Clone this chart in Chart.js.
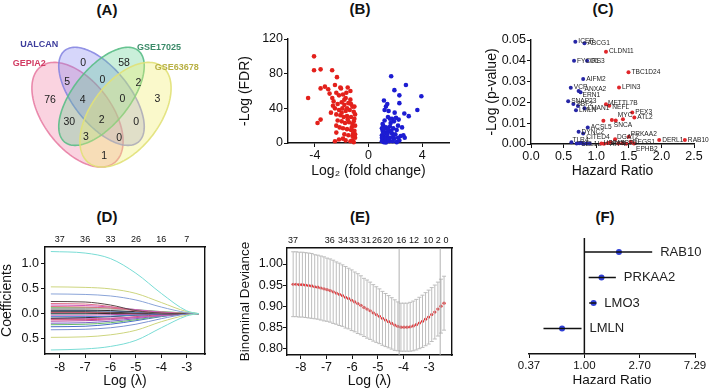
<!DOCTYPE html>
<html><head><meta charset="utf-8">
<script src="https://cdn.jsdelivr.net/npm/chart.js@4.4.1/dist/chart.umd.min.js"></script>
<style>
html,body{margin:0;padding:0;background:#fff}
body{width:709px;height:388px;position:relative;overflow:hidden;font-family:'Liberation Sans',Arial,sans-serif}
canvas{position:absolute;display:block}
.pt{position:absolute;font-weight:bold;font-size:15px;color:#111;transform:translate(-50%,-50%);white-space:nowrap}
</style></head><body>
<div class="pt" style="left:107px;top:9px">(A)</div>
<div class="pt" style="left:360px;top:8px">(B)</div>
<div class="pt" style="left:603px;top:8px">(C)</div>
<div class="pt" style="left:107px;top:216px">(D)</div>
<div class="pt" style="left:360px;top:216px">(E)</div>
<div class="pt" style="left:605px;top:216px">(F)</div>
<canvas id="cA" width="230" height="200" style="left:0;top:0"></canvas>
<canvas id="cB" width="230" height="165" style="left:230px;top:25px"></canvas>
<canvas id="cC" width="249" height="165" style="left:460px;top:25px"></canvas>
<canvas id="cD" width="230" height="163" style="left:0;top:225px"></canvas>
<canvas id="cE" width="230" height="163" style="left:235px;top:225px"></canvas>
<canvas id="cF" width="229" height="163" style="left:480px;top:225px"></canvas>
<script>
// ================= DATA =================
// (A) Venn
const vennSets = ['GEPIA2','UALCAN','GSE17025','GSE63678'];
const vennRegions = ['1000','0100','0010','0001','1100','0110','0011','1110','0111','1010','0101','1111','1011','1101','1001'];
const vennCounts  = [76,0,58,3,5,0,2,4,0,30,0,2,3,0,1];

// (B) volcano
const bDownFC  = [-4.06,-4.06,-3.57,-2.71,-2.35,-4.5,-3.57,-3.25,-3.0,-2.5,-2.05,-1.55,-1.35,-3.57,-3.8,-2.4,-2.2,-1.9,-1.7,-2.6,-2.3,-2.0,-1.8,-1.5,-1.2,-2.5,-2.2,-1.95,-1.7,-1.4,-1.1,-2.8,-2.4,-2.1,-1.85,-1.6,-1.3,-1.05,-2.3,-2.0,-1.75,-1.45,-1.2,-2.15,-1.9,-1.6,-1.3,-1.05,-2.4,-1.8,-1.5,-1.2,-1.0,-2.2,-1.7,-1.35,-1.1,-2.5,-1.9,-1.15,-1.25,-1.0,-1.55,-2.65,-1.35,-1.65,-2.1,-2.9,-2.7,-1.0,-1.1,-1.0,-1.2,-1.05,-1.3,-2.4,-2.0,-1.6,-1.8];
const bDownFDR = [100,84,85,84,76,52,63,65,62,67,63,64,60,27,23,58,55,56,52,48,45,47,44,46,42,40,38,40,37,38,36,35,33,32,30,31,30,28,26,25,23,24,22,18,17,16,15,14,12,10,9,8,6,4,3,2,1,2,5,11,18,20,27,43,50,58,64,57,52,33,25,10,3,42,45,20,35,40,50];
const bUpFC  = [1.69,2.79,1.93,2.3,3.94,1.15,3.64,2.67,3.0,2.3,1.3,1.2,1.5,1.45,1.75,2.05,1.9,2.25,1.1,1.3,1.6,1.85,2.1,1.05,1.25,1.5,1.75,2.0,2.4,1.1,1.35,1.6,1.9,2.2,1.05,1.3,1.55,1.8,2.1,1.15,1.4,1.65,1.2,2.6,1.0,1.95,1.4,2.5,1.7,1.25,2.3,1.0,1.45,2.7,1.85,1.0,1.1,1.2,1.05,1.15,1.3,1.0,1.5,1.6,2.2];
const bUpFDR = [77,67,61,55,54,49,38,34,31,46,42,38,37,30,28,29,25,27,20,18,19,17,15,14,12,13,11,10,8,8,7,6,5,6,4,3,2,2,1,1,10,23,26,9,17,35,45,18,14,5,3,2,16,6,8,9,12,2,22,16,0.5,6,4,28,20];
const bXTicks = [-4,0,4];
const bYTicks = [0,40,80,120];

// (C) hazard ratio vs -log p
const cBlueGenes = ['ICER','ABCG1','FYCO1','IRS3','AIFM2','VCP','ANXA2','ERN1','SNAP23','SBF2','','LMAN1','LMLN','ACSL5','DYNC2','CITED4','TLR4','SEL1L','','','','',''];
const cBlueHR    = [0.68,0.82,0.66,0.86,0.80,0.61,0.73,0.76,0.57,0.65,0.72,0.82,0.69,0.87,0.73,0.80,0.62,0.74,0.70,0.77,0.80,0.85,0.90];
const cBlueP     = [0.0492,0.0484,0.0400,0.0400,0.0313,0.0271,0.0255,0.0249,0.0205,0.0192,0.0183,0.0172,0.0162,0.0079,0.0059,0.0051,0.0008,0.0004,0.0002,0.0006,0.0001,0.0003,0.0002];
const cRedGenes  = ['CLDN11','TBC1D24','LPIN3','METTL7B','NEFL','PEX3','ATL2','MYC','SNCA','','','PRKAA2','DGAT2','DEGS1','EPHB2','DERL1','RAB10','HSPA5','ATF4','XBP1','','','',''];
const cRedHR     = [1.15,1.495,1.35,1.15,1.20,1.553,1.585,1.30,1.24,1.41,1.11,1.50,1.29,1.53,1.58,1.966,2.36,1.08,1.18,1.34,1.12,1.22,1.40,1.46];
const cRedP      = [0.0444,0.0345,0.0272,0.0191,0.0184,0.0151,0.0127,0.0113,0.0115,0.0119,0.0112,0.0035,0.0023,0.0011,0.0002,0.0019,0.0019,0.0003,0.0005,0.0002,0.0001,0.0008,0.0004,0.0001];
const cXTicks = [0,0.5,1,1.5,2,2.5];
const cYTicks = [0,0.01,0.02,0.03,0.04,0.05];

// (D) LASSO coefficient paths
const dLambdaKnots = [-8.35,-7,-6,-5,-4,-3,-2.53];
const dCoefs = [
 [1.23,1.20,1.09,0.80,0.40,0.055,0],
 [-0.72,-0.70,-0.65,-0.53,-0.28,-0.045,0],
 [0.53,0.52,0.49,0.40,0.22,0.04,0],
 [0.39,0.38,0.35,0.27,0.13,0.02,0],
 [-0.47,-0.46,-0.42,-0.33,-0.16,-0.03,0],
 [-0.32,-0.31,-0.28,-0.21,-0.10,-0.01,0],
 [0.24,0.23,0.17,0.06,0.01,0,0],
 [0.20,0.19,0.14,0.05,0.01,0,0],
 [0.17,0.16,0.13,0.08,0.03,0,0],
 [0.14,0.13,0.11,0.07,0.03,0.005,0],
 [0.12,0.12,0.11,0.08,0.04,0.01,0],
 [0.10,0.10,0.09,0.07,0.04,0.01,0],
 [0.07,0.07,0.06,0.04,0.02,0,0],
 [0.06,0.06,0.05,0.03,0.01,0,0],
 [0.04,0.04,0.03,0.01,0,0,0],
 [0.02,0.02,0.02,0.01,0,0,0],
 [0.01,0.01,0.00,0,0,0,0],
 [0.0,0.0,0.01,0.02,0.02,0.01,0],
 [-0.01,-0.01,0,0,0,0,0],
 [-0.03,-0.03,-0.02,-0.01,0,0,0],
 [-0.06,-0.06,-0.05,-0.03,-0.01,0,0],
 [-0.09,-0.08,-0.06,-0.03,-0.01,0,0],
 [-0.10,-0.10,-0.09,-0.07,-0.04,-0.01,0],
 [-0.12,-0.12,-0.10,-0.06,-0.02,0,0],
 [-0.15,-0.14,-0.12,-0.08,-0.03,0,0],
 [-0.19,-0.18,-0.15,-0.10,-0.04,-0.005,0],
 [-0.22,-0.21,-0.18,-0.12,-0.05,-0.005,0],
 [-0.26,-0.25,-0.21,-0.14,-0.06,-0.005,0]
];
const dXTicks = [-8,-7,-6,-5,-4,-3];
const dTopCounts = [37,36,33,26,16,7];
const dYTicks = [-0.5,0,0.5,1.0];

// (E) cross-validation deviance
const eLambda = [-8.30,-8.18,-8.06,-7.94,-7.82,-7.70,-7.58,-7.46,-7.34,-7.22,-7.10,-6.98,-6.86,-6.74,-6.62,-6.50,-6.38,-6.26,-6.14,-6.02,-5.90,-5.78,-5.66,-5.54,-5.42,-5.30,-5.18,-5.06,-4.94,-4.82,-4.70,-4.58,-4.46,-4.34,-4.22,-4.10,-3.98,-3.86,-3.74,-3.62,-3.50,-3.38,-3.26,-3.14,-3.02,-2.90,-2.78,-2.66,-2.54,-2.42];
const eMean = [0.952,0.952,0.951,0.951,0.950,0.949,0.948,0.946,0.945,0.943,0.941,0.939,0.937,0.934,0.931,0.928,0.925,0.921,0.918,0.914,0.910,0.906,0.902,0.897,0.893,0.889,0.884,0.880,0.876,0.871,0.867,0.863,0.859,0.855,0.852,0.850,0.850,0.850,0.851,0.853,0.856,0.860,0.864,0.869,0.874,0.880,0.886,0.893,0.900,0.907];
const eHalf = [0.077,0.077,0.077,0.077,0.077,0.077,0.077,0.076,0.076,0.076,0.076,0.075,0.075,0.075,0.074,0.074,0.073,0.073,0.072,0.072,0.071,0.071,0.070,0.069,0.069,0.068,0.067,0.066,0.065,0.064,0.063,0.062,0.061,0.060,0.058,0.057,0.057,0.057,0.058,0.059,0.060,0.061,0.062,0.063,0.064,0.064,0.064,0.064,0.064,0.064];
const eRefLambda = [-4.17,-2.57];
const eXTicks = [-8,-7,-6,-5,-4,-3];
const eTopLambda = [-8.31,-6.87,-6.36,-5.93,-5.46,-5.03,-4.60,-4.09,-3.59,-3.04,-2.65,-2.34];
const eTopCounts = [37,36,34,33,31,26,20,16,12,10,2,0];
const eYTicks = [0.80,0.85,0.90,0.95,1.00];

// (F) forest plot
const fGenes = ['RAB10','PRKAA2','LMO3','LMLN'];
const fHR   = [1.86,1.36,1.18,0.67];
const fLow  = [1.00,1.08,1.09,0.48];
const fHigh = [3.38,1.76,1.24,0.95];
const fXTicks = [0.37,1.00,2.70,7.29];

// ================= LAYOUT / STYLE =================
Chart.defaults.font.family = "'Liberation Sans', Arial, Helvetica, sans-serif";
Chart.defaults.color = '#111';
Chart.defaults.animation = false;
Chart.defaults.responsive = false;
Chart.defaults.events = [];
Chart.defaults.plugins.legend.display = false;
Chart.defaults.plugins.tooltip.enabled = false;

function mkAxis(o) {
  return {
    type: o.type || 'linear', position: o.position, min: o.min, max: o.max,
    afterBuildTicks: s => { s.ticks = (o.tickVals || []).map(v => ({value: v})); },
    afterFit: s => { if (s.isHorizontal()) s.height = o.size; else s.width = o.size; },
    grid: {display: true, drawOnChartArea: false, drawTicks: (o.tickLen || 0) > 0, tickLength: o.tickLen || 0, color: '#111', lineWidth: 1},
    border: {display: true, color: '#111', width: o.borderWidth || 1.4},
    ticks: {display: !!o.fmt, autoSkip: false, maxRotation: 0, minRotation: 0, color: '#111',
            font: {size: o.tickFont || 12}, padding: o.tickPad == null ? 2 : o.tickPad,
            callback: (v, i) => o.fmt ? o.fmt(v, i) : ''},
    title: {display: !!o.title, text: o.title || '', color: '#111', font: {size: o.titleFont || 14, lineHeight: 1}, padding: o.titlePad || 0}
  };
}

// ---------- (A) Venn ----------
const vennSx = 160, vennSy = 183.6, vennX0 = 21.5, vennY0 = 201;
const vennShapes = [
  {cx:0.35, cy:0.47, a:0.35, b:0.20, rot:135, fill:'rgba(238,118,160,0.32)', stroke:'rgba(230,120,160,0.85)'},
  {cx:0.50, cy:0.57, a:0.34, b:0.165, rot:135, fill:'rgba(128,128,238,0.32)', stroke:'rgba(130,130,225,0.85)'},
  {cx:0.50, cy:0.57, a:0.34, b:0.165, rot:45,  fill:'rgba(90,205,140,0.32)',  stroke:'rgba(90,190,135,0.9)'},
  {cx:0.65, cy:0.47, a:0.35, b:0.20, rot:45,  fill:'rgba(240,238,110,0.36)', stroke:'rgba(225,225,120,0.9)'}
];
const vennLabelAt = {'1000':[0.178,0.550],'0100':[0.386,0.750],'0010':[0.641,0.750],'0001':[0.849,0.554],'1100':[0.286,0.650],'0110':[0.505,0.659],'0011':[0.730,0.644],'1110':[0.383,0.550],'0111':[0.630,0.554],'1010':[0.299,0.432],'0101':[0.716,0.429],'1111':[0.501,0.441],'1011':[0.403,0.350],'1101':[0.611,0.342],'1001':[0.516,0.245]};
const vennNameAt = [[0.049,0.750],[0.111,0.850],[0.859,0.835],[0.970,0.728]];
const vennNameColor = ['#d23a62','#3c3c9c','#3a8a68','#b8b044'];

const vennPlugin = {
  id: 'venn',
  beforeDatasetsDraw(chart) {
    const {ctx, scales: {x, y}} = chart;
    vennShapes.forEach(e => {
      const th = e.rot * Math.PI / 180;
      ctx.beginPath();
      for (let k = 0; k <= 160; k++) {
        const t = k / 160 * 2 * Math.PI;
        const u = e.cx + e.a * Math.cos(t) * Math.cos(th) - e.b * Math.sin(t) * Math.sin(th);
        const v = e.cy + e.a * Math.cos(t) * Math.sin(th) + e.b * Math.sin(t) * Math.cos(th);
        const px = x.getPixelForValue(u), py = y.getPixelForValue(v);
        if (k) ctx.lineTo(px, py); else ctx.moveTo(px, py);
      }
      ctx.closePath();
      ctx.fillStyle = e.fill; ctx.fill();
      ctx.strokeStyle = e.stroke; ctx.lineWidth = 1.6; ctx.stroke();
    });
  },
  afterDatasetsDraw(chart) {
    const {ctx, scales: {x, y}} = chart;
    const meta = chart.getDatasetMeta(0);
    ctx.save();
    ctx.textAlign = 'center'; ctx.textBaseline = 'middle';
    ctx.fillStyle = '#222';
    ctx.font = "10.5px 'Liberation Sans', Arial, sans-serif";
    meta.data.forEach((el, i) => ctx.fillText(String(vennCounts[i]), el.x, el.y));
    ctx.font = "bold 9px 'Liberation Sans', Arial, sans-serif";
    vennSets.forEach((s, i) => {
      ctx.fillStyle = vennNameColor[i];
      ctx.fillText(s, x.getPixelForValue(vennNameAt[i][0]), y.getPixelForValue(vennNameAt[i][1]));
    });
    ctx.restore();
  }
};
new Chart(document.getElementById('cA'), {
  type: 'scatter',
  data: {datasets: [{data: vennRegions.map(r => ({x: vennLabelAt[r][0], y: vennLabelAt[r][1]})), pointRadius: 0}]},
  options: {
    layout: {padding: 0, autoPadding: false},
    scales: {
      x: {type: 'linear', display: false, min: -vennX0 / vennSx, max: (230 - vennX0) / vennSx},
      y: {type: 'linear', display: false, min: (vennY0 - 200) / vennSy, max: vennY0 / vennSy}
    }
  },
  plugins: [vennPlugin]
});

// ---------- (B) ----------
new Chart(document.getElementById('cB'), {
  type: 'scatter',
  data: {datasets: [
    {data: bDownFC.map((v, i) => ({x: v, y: bDownFDR[i]})), backgroundColor: '#e3201b', borderWidth: 0, pointRadius: 2.3, clip: false},
    {data: bUpFC.map((v, i) => ({x: v, y: bUpFDR[i]})), backgroundColor: '#1c1cd2', borderWidth: 0, pointRadius: 2.3, clip: false}
  ]},
  options: {
    layout: {padding: {left: 0, right: 11, top: 14, bottom: 0}, autoPadding: false},
    scales: {
      x: mkAxis({position: 'bottom', min: -6, max: 6, tickVals: bXTicks, fmt: v => String(v), size: 47, tickFont: 12.5, tickLen: 4, tickPad: 1, title: 'Log\u2082 (fold change)', titleFont: 14, titlePad: {bottom: 12}}),
      y: mkAxis({position: 'left', min: 0, max: 120, tickVals: bYTicks, fmt: v => String(v), size: 58, tickFont: 12.5, tickLen: 4, tickPad: 1, title: '-Log (FDR)', titleFont: 14, titlePad: {top: 8}})
    }
  }
});

// ---------- (C) ----------
const cNudge = {ANXA2:[6,-2], ERN1:[2,3], METTL7B:[2,-1.5], NEFL:[3,1], MYC:[2,-5], SNCA:[2,5], PRKAA2:[2,-3], DGAT2:[2,-2], DEGS1:[2,0], EPHB2:[2,6], CITED4:[3,4], TLR4:[1,-2], SEL1L:[2,1], HSPA5:[2,0], ATF4:[2,1], XBP1:[2,0]};
const pointLabels = {
  id: 'pointLabels',
  afterDatasetsDraw(chart) {
    const ctx = chart.ctx;
    chart.data.datasets.forEach((ds, di) => {
      if (!ds.pointText) return;
      const meta = chart.getDatasetMeta(di);
      ctx.save();
      ctx.font = "6.6px 'Liberation Sans', Arial, sans-serif";
      ctx.fillStyle = '#222'; ctx.textBaseline = 'middle'; ctx.textAlign = 'left';
      meta.data.forEach((el, i) => {
        const t = ds.pointText[i]; if (!t) return;
        const off = cNudge[t] || [3, 0];
        ctx.fillText(t, el.x + off[0], el.y + off[1]);
      });
      ctx.restore();
    });
  }
};
new Chart(document.getElementById('cC'), {
  type: 'scatter',
  data: {datasets: [
    {data: cBlueHR.map((v, i) => ({x: v, y: cBlueP[i]})), pointText: cBlueGenes, backgroundColor: '#2626a6', borderWidth: 0, pointRadius: 2, clip: false},
    {data: cRedHR.map((v, i) => ({x: v, y: cRedP[i]})), pointText: cRedGenes, backgroundColor: '#e0262a', borderWidth: 0, pointRadius: 2, clip: false}
  ]},
  options: {
    layout: {padding: {left: 0, right: 15, top: 15, bottom: 0}, autoPadding: false},
    scales: {
      x: mkAxis({position: 'bottom', min: 0, max: 2.5, tickVals: cXTicks, fmt: v => v.toFixed(1), size: 46, tickFont: 12.5, tickLen: 4, tickPad: 1, title: 'Hazard Ratio', titleFont: 14, titlePad: {bottom: 12}}),
      y: mkAxis({position: 'left', min: 0, max: 0.05, tickVals: cYTicks, fmt: v => v.toFixed(2), size: 71, tickFont: 12.5, tickLen: 4, tickPad: 1, title: '-Log (p-value)', titleFont: 14, titlePad: {top: 25}})
    }
  },
  plugins: [pointLabels]
});

// ---------- (D) ----------
const dColors = ['#79dcd5','#79dcd5','#cdd57e','#8aa4d8','#cdd57e','#7d93d2','#5a4848','#e0708a','#cc5cbc','#e06a7e','#7ccc80','#a8a8a8','#303030','#5f8ed8','#404040','#d85a70','#222222','#5fd6d6','#9a9a9a','#c84ab4','#4a7ed0','#2a2a2a','#c860b8','#d04a66','#b848a8','#7a62c4','#66bb66','#4a6cc8'];
new Chart(document.getElementById('cD'), {
  type: 'scatter',
  data: {datasets: dCoefs.map((row, i) => ({
    data: row.map((v, k) => ({x: dLambdaKnots[k], y: v})),
    showLine: true, pointRadius: 0, borderWidth: 1, borderColor: dColors[i], cubicInterpolationMode: 'monotone'
  }))},
  options: {
    layout: {padding: 0, autoPadding: false},
    scales: {
      x: mkAxis({position: 'bottom', min: -8.58, max: -2.28, tickVals: dXTicks, fmt: v => String(v), size: 34, tickFont: 12.5, tickLen: 4, tickPad: 2, title: 'Log (\u03bb)', titleFont: 14, titlePad: {bottom: 0}}),
      x2: mkAxis({position: 'top', min: -8.58, max: -2.28, tickVals: dXTicks, fmt: (v, i) => String(dTopCounts[i]), size: 22, tickFont: 9, tickLen: 0, tickPad: 2}),
      y: mkAxis({position: 'left', min: -0.8, max: 1.32, tickVals: dYTicks, fmt: v => Math.abs(v).toFixed(1), size: 45, tickFont: 12.5, tickLen: 4, tickPad: 2, title: 'Coefficients', titleFont: 14, titlePad: {top: 0}}),
      y2: mkAxis({position: 'right', min: -0.8, max: 1.32, tickVals: dYTicks, fmt: null, size: 25, tickLen: 0})
    }
  }
});

// ---------- (E) ----------
const eBars = [];
eLambda.forEach((l, i) => { eBars.push({x: l, y: eMean[i] - eHalf[i]}, {x: l, y: eMean[i] + eHalf[i]}, {x: l, y: null}); });
const eCaps = [];
eLambda.forEach((l, i) => { eCaps.push({x: l, y: eMean[i] - eHalf[i]}, {x: l, y: eMean[i] + eHalf[i]}); });
const eYMin = 0.784, eYMax = 1.038;
const eRefs = [];
eRefLambda.forEach(l => { eRefs.push({x: l, y: eYMin}, {x: l, y: eYMax}, {x: l, y: null}); });
new Chart(document.getElementById('cE'), {
  type: 'scatter',
  data: {datasets: [
    {data: eRefs, showLine: true, spanGaps: false, pointRadius: 0, borderColor: '#a8a8a8', borderWidth: 0.9},
    {data: eBars, showLine: true, spanGaps: false, pointRadius: 0, borderColor: '#bdbdbd', borderWidth: 1},
    {data: eCaps, showLine: false, pointStyle: 'line', pointRadius: 2, borderColor: '#bdbdbd', borderWidth: 1},
    {data: eLambda.map((l, i) => ({x: l, y: eMean[i]})), pointRadius: 1.6, backgroundColor: '#e3262a', borderWidth: 0}
  ]},
  options: {
    layout: {padding: 0, autoPadding: false},
    scales: {
      x: mkAxis({position: 'bottom', min: -8.54, max: -2.11, tickVals: eXTicks, fmt: v => String(v), size: 33, tickFont: 12.5, tickLen: 4, tickPad: 1, title: 'Log (\u03bb)', titleFont: 14, titlePad: {bottom: 0}}),
      x2: mkAxis({position: 'top', min: -8.54, max: -2.11, tickVals: eTopLambda, fmt: (v, i) => String(eTopCounts[i]), size: 23, tickFont: 9, tickLen: 0, tickPad: 2}),
      y: mkAxis({position: 'left', min: eYMin, max: eYMax, tickVals: eYTicks, fmt: v => v.toFixed(2), size: 52, tickFont: 12.5, tickLen: 4, tickPad: 0, title: 'Binominal Deviance', titleFont: 13.5, titlePad: {top: 4}}),
      y2: mkAxis({position: 'right', min: eYMin, max: eYMax, tickVals: eYTicks, fmt: null, size: 13, tickLen: 0})
    }
  }
});

// ---------- (F) ----------
const fRows = fGenes.map((g, i) => fGenes.length - i);
const fCI = [];
fGenes.forEach((g, i) => { fCI.push({x: fLow[i], y: fRows[i]}, {x: fHigh[i], y: fRows[i]}, {x: fHigh[i], y: null}); });
const fYTop = 4.55;
const forestLabels = {
  id: 'forestLabels',
  afterDatasetsDraw(chart) {
    const {ctx, scales: {x, y}} = chart;
    ctx.save();
    ctx.font = "13px 'Liberation Sans', Arial, sans-serif";
    ctx.fillStyle = '#222'; ctx.textBaseline = 'middle'; ctx.textAlign = 'left';
    fGenes.forEach((g, i) => ctx.fillText(g, x.getPixelForValue(fHigh[i]) + 8, y.getPixelForValue(fRows[i])));
    ctx.restore();
  }
};
new Chart(document.getElementById('cF'), {
  type: 'scatter',
  data: {datasets: [
    {data: [{x: 1, y: 0}, {x: 1, y: fYTop}], showLine: true, pointRadius: 0, borderColor: '#111', borderWidth: 1.5},
    {data: fCI, showLine: true, spanGaps: false, pointRadius: 0, borderColor: '#111', borderWidth: 1.4},
    {data: fHR.map((v, i) => ({x: v, y: fRows[i]})), pointRadius: 3, backgroundColor: '#2f3fd6', borderWidth: 0}
  ]},
  options: {
    layout: {padding: {left: 49, right: 14, top: 13, bottom: 0}, autoPadding: false},
    scales: {
      x: mkAxis({type: 'logarithmic', position: 'bottom', min: 0.37, max: 7.29, tickVals: fXTicks, fmt: v => v.toFixed(2), size: 34, tickFont: 11.5, tickLen: 4, tickPad: 1, title: 'Hazard Ratio', titleFont: 13.5, titlePad: {bottom: 1}}),
      y: {type: 'linear', display: false, min: 0, max: fYTop}
    }
  },
  plugins: [forestLabels]
});
</script>
</body></html>
